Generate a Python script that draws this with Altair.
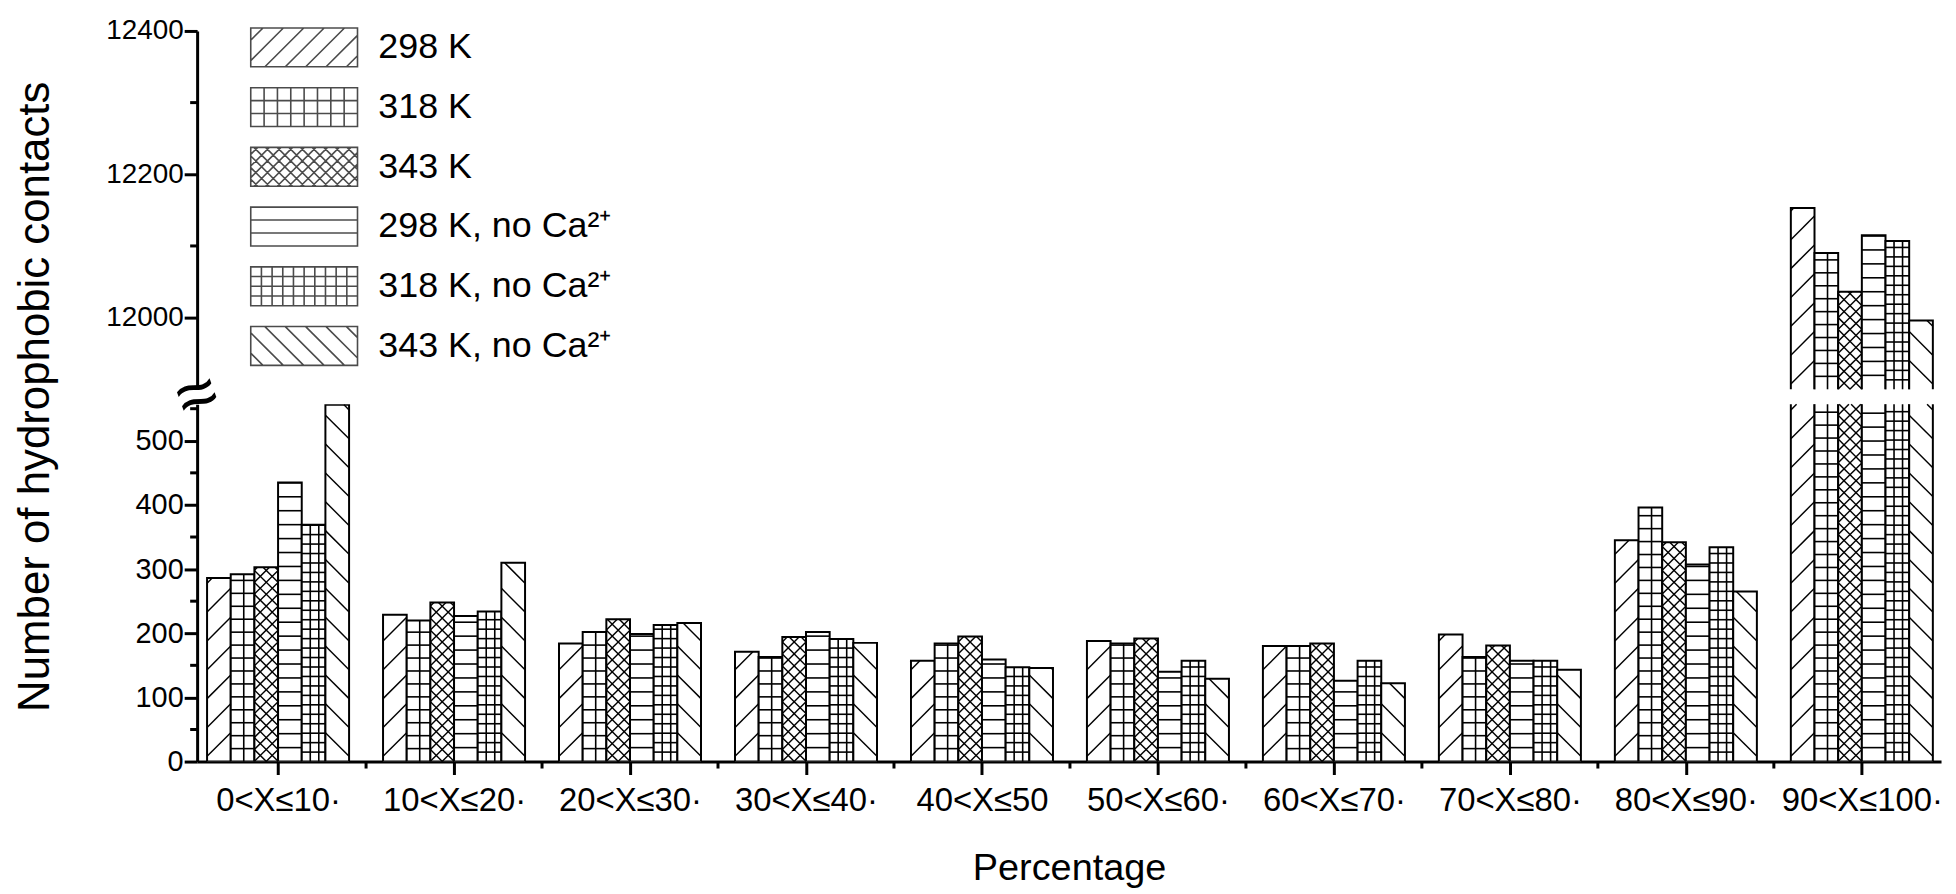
import json
import altair as alt
import pandas as pd

# ---------------- data ----------------
categories = ["0<X≤10·", "10<X≤20·", "20<X≤30·", "30<X≤40·", "40<X≤50",
              "50<X≤60·", "60<X≤70·", "70<X≤80·", "80<X≤90·", "90<X≤100·"]
series = ["298 K", "318 K", "343 K", "298 K, no Ca²⁺", "318 K, no Ca²⁺", "343 K, no Ca²⁺"]

v_298 = [286, 229, 184, 171, 157, 188, 180, 198, 345, 12153]
v_318 = [292, 220, 202, 163, 184, 184, 180, 163, 396, 12090]
v_343 = [303, 248, 222, 194, 195, 192, 184, 181, 342, 12036]
v_298_noca = [435, 227, 199, 202, 159, 140, 126, 157, 307, 12115]
v_318_noca = [369, 234, 213, 191, 147, 157, 157, 157, 334, 12107]
v_343_noca = [556, 310, 216, 185, 146, 129, 122, 143, 265, 11996]

y_major_lower = [0, 100, 200, 300, 400, 500]
y_minor_lower = [50, 150, 250, 350, 450, 550]
y_major_upper = [12000, 12200, 12400]
y_minor_upper = [12100, 12300]

values = [v_298, v_318, v_343, v_298_noca, v_318_noca, v_343_noca]
rows = []
for j, (s, vals) in enumerate(zip(series, values)):
    for g, (c, v) in enumerate(zip(categories, vals)):
        rows.append({"cat": c, "g": g, "series": s, "j": j, "value": v})
df = pd.DataFrame(rows)

# ---------------- layout / style ----------------
FONT = "Liberation Sans"
W = 1752
XDOM = [-0.46, 9.45]
BW = 0.1345              # bar width in category units
GW = 6 * BW
BW_PX = BW * W / (XDOM[1] - XDOM[0])
LW = 1.6                 # pattern line width
TMAJ, TMIN = 13, 7       # tick lengths

xscale = alt.Scale(domain=XDOM, nice=False, zero=False)


def panel(ymin, ymax, h, lower):
    ppu = h / (ymax - ymin)
    yscale = alt.Scale(domain=[ymin, ymax], nice=False, zero=False)
    base = alt.Chart(df).transform_filter(f"datum.value > {ymin}").transform_calculate(
        x0=f"datum.g - {GW / 2} + datum.j * {BW}",
        x1=f"datum.g - {GW / 2} + (datum.j + 1) * {BW}",
        lo=f"{ymin}",
        top=f"min(datum.value, {ymax})",
        yb0=f"{ymin if lower else ymin - (ymax - ymin) * 0.2}",
    )
    if lower:
        xaxis = alt.Axis(
            values=list(range(10)),
            labelExpr=f"{json.dumps(categories, ensure_ascii=False)}[datum.value]",
            tickSize=TMAJ, labelFlush=False, labelOverlap=False, labelFontSize=33,
            labelPadding=10, title="Percentage", titleFontSize=38, titleFont=FONT,
            titleFontWeight="normal", titleY=107, titleBaseline="middle",
        )
        yaxis = alt.Axis(
            values=y_major_lower, tickSize=TMAJ, labelPadding=1, format="d", labelFontSize=29,
            title="Number of hydrophobic contacts",
            titleFontSize=44, titleFont=FONT, titleFontWeight="normal",
            titleX=-162, titleY=-8, titleBaseline="middle", titleAlign="center", titleAngle=270,
        )
        yminor = y_minor_lower
    else:
        xaxis = alt.Axis(values=[], domain=False, ticks=False, labels=False, title=None)
        yaxis = alt.Axis(values=y_major_upper, tickSize=TMAJ, labelPadding=1, format="d",
                         labelFontSize=28, title=None)
        yminor = y_minor_upper

    bars = base.mark_rect(fill="white", stroke="black", strokeWidth=2, clip=True).encode(
        x=alt.X("x0:Q", scale=xscale, axis=xaxis),
        x2="x1:Q",
        y=alt.Y("yb0:Q", scale=yscale, axis=yaxis),
        y2="value:Q",
    )

    # horizontal pattern lines
    hl = base.transform_calculate(
        hstep=f"[0, 13, 0, 14, 9.5, 0][datum.j] / {ppu}"
    ).transform_filter("datum.hstep > 0").transform_calculate(
        hs="sequence(datum.lo + datum.hstep, datum.top, datum.hstep)"
    ).transform_flatten(["hs"]).mark_rule(color="black", strokeWidth=LW).encode(
        x=alt.X("x0:Q", scale=xscale), x2="x1:Q",
        y=alt.Y("hs:Q", scale=yscale),
    )

    # vertical pattern lines
    vl = base.transform_calculate(
        vf="datum.j == 1 ? [0.55] : (datum.j == 4 ? [0.36, 0.72] : [])"
    ).transform_flatten(["vf"]).transform_calculate(
        vx=f"datum.x0 + datum.vf * {BW}"
    ).mark_rule(color="black", strokeWidth=LW).encode(
        x=alt.X("vx:Q", scale=xscale),
        y=alt.Y("lo:Q", scale=yscale), y2="top:Q",
    )

    # diagonal pattern lines
    dg = base.transform_calculate(
        dstep=f"[29, 0, 12, 0, 0, 29][datum.j] / {ppu}",
        dy=f"{BW_PX} / {ppu}",
    ).transform_filter("datum.dstep > 0").transform_calculate(
        dirs="datum.j == 0 ? [1] : (datum.j == 5 ? [-1] : [1, -1])"
    ).transform_flatten(["dirs"]).transform_calculate(
        ys="sequence(datum.lo - datum.dy, datum.top, datum.dstep)"
    ).transform_flatten(["ys"]).transform_calculate(
        ua="max(0, (datum.lo - datum.ys) / datum.dy)",
        ub="min(1, (datum.top - datum.ys) / datum.dy)",
    ).transform_filter("datum.ub > datum.ua").transform_calculate(
        xa=f"datum.dirs > 0 ? datum.x0 + datum.ua * {BW} : datum.x0 + (1 - datum.ua) * {BW}",
        xb=f"datum.dirs > 0 ? datum.x0 + datum.ub * {BW} : datum.x0 + (1 - datum.ub) * {BW}",
        ya="datum.ys + datum.dy * datum.ua",
        yb="datum.ys + datum.dy * datum.ub",
    ).mark_rule(color="black", strokeWidth=LW * 0.9).encode(
        x=alt.X("xa:Q", scale=xscale), x2="xb:Q",
        y=alt.Y("ya:Q", scale=yscale), y2="yb:Q",
    )

    # minor y ticks
    ymin_ticks = alt.Chart(pd.DataFrame({"t": yminor})).mark_rule(
        color="black", strokeWidth=3
    ).encode(y=alt.Y("t:Q", scale=yscale), x=alt.value(-TMIN), x2=alt.value(0))

    layers = [bars, hl, vl, dg, ymin_ticks]
    if lower:
        # minor x ticks between the groups
        xmin_ticks = base.transform_filter("datum.j == 0 && datum.g < 9").transform_calculate(
            xm="datum.g + 0.5"
        ).mark_rule(color="black", strokeWidth=3).encode(
            x=alt.X("xm:Q", scale=xscale), y=alt.value(h), y2=alt.value(h + TMIN)
        )
        brk = alt.Chart(df).transform_filter("datum.g == 0 && datum.j == 0").mark_text(
            text="≈", fontSize=72, angle=340, font=FONT, color="black"
        ).encode(x=alt.value(0), y=alt.value(-8))
        layers += [xmin_ticks, brk]
    else:
        # legend with patterned swatches
        Wd = 2.75

        def rect():
            return f"M{-Wd},-1L{Wd},-1L{Wd},1L{-Wd},1Z"

        def hlines(n):
            return "".join(f"M{-Wd},{-1 + 2 * k / n:.3f}L{Wd},{-1 + 2 * k / n:.3f}" for k in range(1, n))

        def vlines(n):
            return "".join(f"M{-Wd + 2 * Wd * k / n:.3f},-1L{-Wd + 2 * Wd * k / n:.3f},1" for k in range(1, n))

        def diag(step, sign):
            p = ""
            c = -Wd - 1 + step * 0.6
            while c < Wd + 1:
                xa, xb = max(-Wd, c - 1), min(Wd, c + 1)
                if xb > xa:
                    if sign > 0:
                        p += f"M{xa:.3f},{c - xa:.3f}L{xb:.3f},{c - xb:.3f}"
                    else:
                        p += f"M{xa:.3f},{xa - c:.3f}L{xb:.3f},{xb - c:.3f}"
                c += step
            return p

        paths = [
            rect() + diag(1.05, 1),
            rect() + hlines(3) + vlines(8),
            rect() + diag(0.6, 1) + diag(0.6, -1),
            rect() + hlines(3),
            rect() + hlines(4) + vlines(10),
            rect() + diag(1.05, -1),
        ]
        leg = alt.Chart(df).transform_filter("false").mark_point(
            filled=False, color="black", strokeWidth=1.5
        ).encode(
            shape=alt.Shape("series:N", scale=alt.Scale(domain=series, range=paths),
                            legend=alt.Legend(
                                title=None, orient="none", legendX=87, legendY=-4,
                                symbolSize=1521, symbolStrokeColor="black",
                                symbolFillColor="white", symbolStrokeWidth=1.6,
                                labelFontSize=36, labelFont=FONT, labelColor="black",
                                labelOffset=54, rowPadding=13, labelLimit=0,
                            ))
        )
        layers.append(leg)

    return alt.layer(*layers).properties(width=W, height=h)


upper = panel(11900, 12400, 360, False)
lower = panel(0, 557, 359, True)

chart = alt.vconcat(upper, lower, spacing=15, bounds="flush").configure_view(
    stroke=None
).configure_axis(
    domainColor="black", domainWidth=3, tickColor="black", tickWidth=3,
    labelColor="black", labelFont=FONT, labelFontSize=30, grid=False,
    titleColor="black",
).properties(background="white", padding={"left": 5, "top": 7, "right": 5, "bottom": 5})

chart.save("out.html", embed_options={"renderer": "svg", "actions": False})
